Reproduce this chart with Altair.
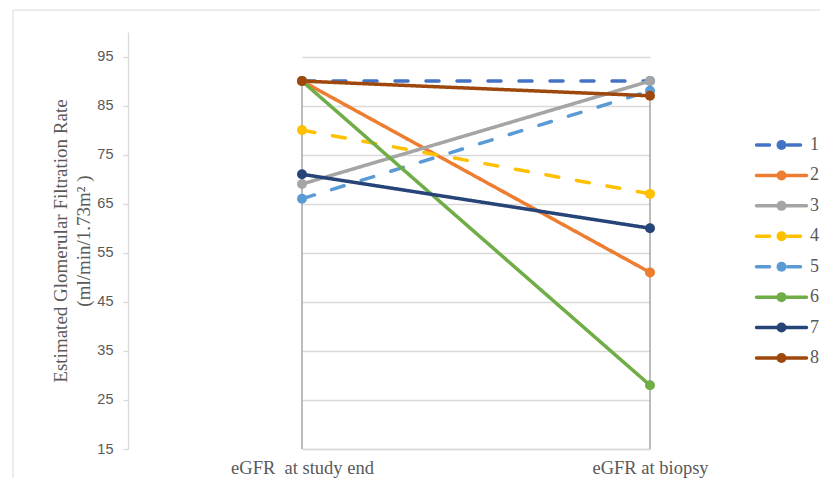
import altair as alt
import pandas as pd

categories = ["eGFR\u00a0 at study end", "eGFR at biopsy"]
series = ["1", "2", "3", "4", "5", "6", "7", "8"]
study_end = [90, 90, 69, 80, 66, 90, 71, 90]
biopsy = [90, 51, 90, 67, 88, 28, 60, 87]
colors = ["#4472C4", "#ED7D31", "#A5A5A5", "#FFC000", "#5B9BD5", "#70AD47", "#264478", "#9E480E"]
dashed = [True, False, False, True, True, False, False, False]
y_ticks = list(range(15, 101, 5))
y_title = ["Estimated Glomerular Filtration Rate", "(ml/min/1.73m\u00b2 )"]

rows = []
for i, s in enumerate(series):
    rows.append({"series": s, "category": categories[0], "value": study_end[i]})
    rows.append({"series": s, "category": categories[1], "value": biopsy[i]})
df = pd.DataFrame(rows)
legend_df = pd.DataFrame({"series": series})
decor_df = pd.DataFrame({"d": [0]})

W, H = 692, 417
GREY = "#595959"
GRID = "#D9D9D9"

color_scale = alt.Scale(domain=series, range=colors)
dash_scale = alt.Scale(domain=series, range=[[13, 18] if d else [1, 0] for d in dashed])

x_enc = alt.X(
    "category:N",
    sort=categories,
    scale=alt.Scale(type="point", padding=0, range=[174, 522]),
    axis=alt.Axis(
        title=None, ticks=False, grid=False, labelAngle=0,
        labelFont="Liberation Serif", labelFontSize=18.5, labelColor=GREY,
        labelPadding=9, domainColor=GRID, domainWidth=1.3,
    ),
)
y_scale = alt.Scale(domain=[15, 100], nice=False, zero=False)
y_enc = alt.Y(
    "value:Q",
    scale=y_scale,
    axis=alt.Axis(
        values=y_ticks,
        labelExpr="datum.value % 10 == 5 ? datum.label : ''",
        title=y_title,
        titleFont="Liberation Serif", titleFontSize=19, titleFontWeight="normal",
        titleColor=GREY, titleLineHeight=23, titleAngle=270, titleBaseline="middle",
        titleX=-68, titleY=H / 2,
        labelFont="Liberation Sans", labelFontSize=14.5, labelColor=GREY, labelPadding=10,
        tickColor=GRID, tickSize=5, tickWidth=1.3,
        domainColor=GRID, domainWidth=1.3,
        grid=True, gridColor=GRID,
        gridWidth={"condition": {"test": "datum.value % 10 == 0", "value": 1}, "value": 1.3},
        gridDash={"condition": {"test": "datum.value % 10 == 0", "value": [1, 2]}, "value": []},
    ),
)
color_enc = alt.Color("series:N", scale=color_scale, legend=None)
dash_enc = alt.StrokeDash("series:N", scale=dash_scale, legend=None)

border = alt.Chart(decor_df).mark_rect(
    fill="white", fillOpacity=0, stroke=GRID, strokeWidth=1
).encode(x=alt.value(-115), x2=alt.value(1000), y=alt.value(-22), y2=alt.value(1000))

drops = alt.Chart(df).transform_aggregate(
    maxv="max(value)", groupby=["category"]
).mark_rule(color="#A6A6A6", strokeWidth=1.5).encode(
    x=x_enc, y=alt.Y("maxv:Q", scale=y_scale), y2=alt.datum(15)
)

lines = alt.Chart(df).mark_line(strokeWidth=3.5, strokeCap="round", strokeJoin="round").encode(
    x=x_enc, y=y_enc, color=color_enc, strokeDash=dash_enc
)
points = alt.Chart(df).mark_point(filled=True, size=100, opacity=1).encode(
    x=x_enc, y=y_enc, color=color_enc
)

main = alt.layer(border, drops, lines, points)

leg_box = alt.Chart(decor_df).mark_rect(fill="white").encode(
    x=alt.value(625), x2=alt.value(710), y=alt.value(101), y2=alt.value(339)
)
leg_y = alt.Y("series:N", sort=series, scale=alt.Scale(type="point", padding=0, range=[113, 326]), axis=None)
leg_lines = alt.Chart(legend_df).mark_rule(strokeWidth=3.5, strokeCap="round").encode(
    x=alt.value(628.5), x2=alt.value(678.5), y=leg_y, color=color_enc, strokeDash=dash_enc
)
leg_pts = alt.Chart(legend_df).mark_point(filled=True, size=100, opacity=1).encode(
    x=alt.value(653.5), y=leg_y, color=color_enc
)
leg_text = alt.Chart(legend_df).mark_text(
    align="left", baseline="middle", font="Liberation Serif", fontSize=18, color=GREY
).encode(x=alt.value(682), y=leg_y, text="series:N")
legend = alt.layer(leg_box, leg_lines, leg_pts, leg_text)

chart = alt.layer(main, legend).resolve_scale(y="independent").properties(
    width=W, height=H,
    autosize=alt.AutoSizeParams(type="none"),
    padding={"left": 120, "top": 24, "right": 0, "bottom": 29},
    background="white",
).configure_view(stroke=None)

chart.save("out.html", embed_options={"renderer": "svg", "actions": False})
